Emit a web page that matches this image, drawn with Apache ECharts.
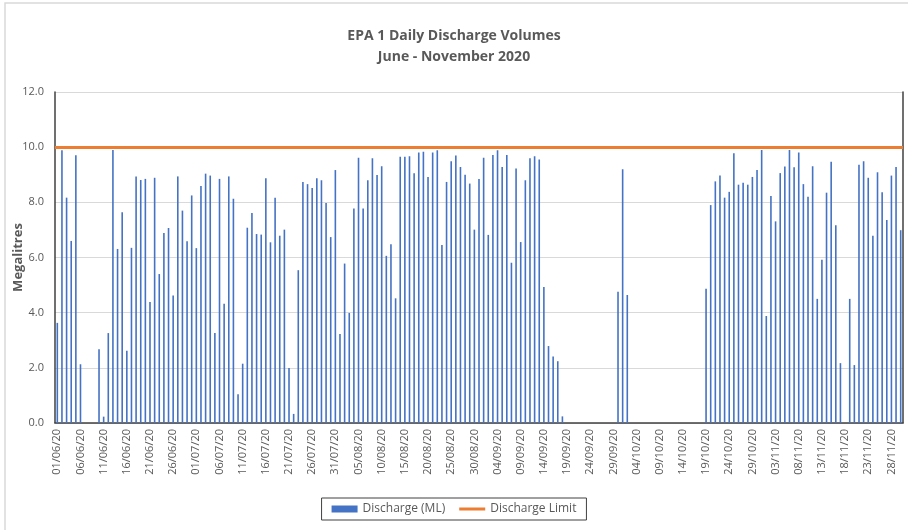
<!DOCTYPE html>
<html>
<head>
<meta charset="utf-8">
<script src="https://cdn.jsdelivr.net/npm/echarts@6/dist/echarts.min.js"></script>
<style>
  html, body { margin: 0; padding: 0; background: #fff; }
  #chart { width: 908px; height: 530px; }
</style>
</head>
<body>
<div id="chart"></div>
<script>
// daily volumes, 01/06/20 .. 30/11/20 (ML)
var discharge = [
  3.63, 9.89, 8.17, 6.6, 9.71, 2.13, 0, 0, 0, 2.67, 0.23, 3.26, 9.9, 6.31, 7.64, 2.62, 6.35, 8.94, 8.81, 8.85, 4.39, 8.89, 5.4,
  6.89, 7.07, 4.62, 8.94, 7.7, 6.59, 8.25, 6.34, 8.59, 9.04, 8.97, 3.26, 8.85, 4.32, 8.94, 8.13, 1.04, 2.15, 7.08, 7.61, 6.85, 6.83, 8.87, 6.55,
  8.17, 6.79, 7.01, 1.99, 0.33, 5.54, 8.74, 8.66, 8.52, 8.87, 8.8, 7.98, 6.74, 9.17, 3.23, 5.78, 3.99, 7.78, 9.62, 7.78, 8.8, 9.6, 8.99,
  9.31, 6.06, 6.48, 4.52, 9.65, 9.65, 9.67, 9.05, 9.81, 9.83, 8.92, 9.81, 9.89, 6.45, 8.74, 9.49, 9.7, 9.28, 9.0, 8.68, 7.01, 8.85, 9.62, 6.82,
  9.72, 9.89, 9.28, 9.72, 5.81, 9.23, 6.56, 8.8, 9.6, 9.67, 9.55, 4.93, 2.79, 2.41, 2.24, 0.24,
  0, 0, 0, 0, 0, 0, 0, 0, 0, 0, 0,
  4.76, 9.2, 4.64,
  0, 0, 0, 0, 0, 0, 0, 0, 0, 0, 0, 0, 0, 0, 0, 0,
  4.87, 7.9, 8.76, 8.97, 8.17, 8.38, 9.78, 8.64, 8.71, 8.64, 8.92, 9.17, 9.9, 3.88, 8.23, 7.31, 9.06, 9.3, 9.9, 9.27, 9.81, 8.66, 8.2,
  9.31, 4.5, 5.92, 8.35, 9.47, 7.17, 2.17, 0, 4.5, 2.1, 9.36, 9.49, 8.89, 6.79, 9.09, 8.37, 7.36, 8.97, 9.28, 6.99
];
var limit = 10;
var yTicks = [0, 2, 4, 6, 8, 10, 12];

// category labels dd/mm/yy
var days = [];
var d = new Date(2020, 5, 1);
for (var i = 0; i < discharge.length; i++) {
  var dd = ('0' + d.getDate()).slice(-2);
  var mm = ('0' + (d.getMonth() + 1)).slice(-2);
  days.push(dd + '/' + mm + '/20');
  d.setDate(d.getDate() + 1);
}

var font = '"Open Sans", "Liberation Sans", sans-serif';
var chart = echarts.init(document.getElementById('chart'));

chart.setOption({
  animation: false,
  textStyle: { fontFamily: font },
  title: {
    text: 'EPA 1 Daily Discharge Volumes\nJune - November 2020',
    left: 'center',
    top: 21,
    textStyle: { color: '#595959', fontSize: 14, fontWeight: 'bold', lineHeight: 21, fontFamily: font }
  },
  graphic: [{
    type: 'rect',
    shape: { x: 5, y: 3, width: 1000, height: 1000 },
    style: { fill: 'none', stroke: '#d9d9d9', lineWidth: 1.5 },
    silent: true
  }],
  grid: { left: 55, right: 5, top: 92, bottom: 107, outerBoundsMode: 'none', containLabel: false },
  legend: {
    bottom: 10,
    left: 'center',
    padding: [5, 10],
    itemGap: 14,
    borderColor: '#404040',
    borderWidth: 1,
    itemWidth: 26,
    itemHeight: 7,
    textStyle: { color: '#595959', fontSize: 12 },
    data: [
      { name: 'Discharge (ML)', icon: 'rect' },
      { name: 'Discharge Limit', icon: 'path://M0,0 L26,0 L26,3 L0,3 Z' }
    ]
  },
  xAxis: [{
    type: 'category',
    data: days,
    axisLine: { lineStyle: { color: '#d9d9d9', width: 1 } },
    axisTick: { show: false },
    axisLabel: { interval: 4, rotate: 90, color: '#595959', fontSize: 11, margin: 6 }
  }, {
    type: 'category',
    position: 'top',
    data: days,
    axisLine: { lineStyle: { color: '#404040', width: 1.5 } },
    axisTick: { show: false },
    axisLabel: { show: false }
  }],
  yAxis: [{
    type: 'value',
    min: yTicks[0],
    max: yTicks[yTicks.length - 1],
    interval: 2,
    name: 'Megalitres',
    nameLocation: 'middle',
    nameGap: 30,
    nameMoveOverlap: false,
    nameTextStyle: { color: '#595959', fontSize: 13, fontWeight: 'bold' },
    axisLine: { show: true, lineStyle: { color: '#404040', width: 1.5 } },
    axisTick: { show: false },
    axisLabel: { color: '#595959', fontSize: 11, margin: 11, formatter: function (v) { return v.toFixed(1); } },
    splitLine: { lineStyle: { color: '#d9d9d9' } }
  }, {
    type: 'value',
    position: 'right',
    min: yTicks[0],
    max: yTicks[yTicks.length - 1],
    interval: 2,
    axisLine: { show: true, lineStyle: { color: '#404040', width: 1.5 } },
    axisTick: { show: false },
    axisLabel: { show: false },
    splitLine: { show: false }
  }],
  series: [{
    name: 'Discharge (ML)',
    type: 'bar',
    data: discharge,
    barWidth: 1.6,
    itemStyle: { color: '#4472C4' }
  }, {
    name: 'Discharge Limit',
    type: 'line',
    data: [],
    symbol: 'none',
    itemStyle: { color: '#ED7D31' },
    lineStyle: { color: '#ED7D31', width: 3 },
    markLine: {
      silent: true,
      symbol: ['none', 'none'],
      label: { show: false },
      lineStyle: { color: '#ED7D31', width: 3, type: 'solid' },
      data: [{ yAxis: limit }]
    }
  }]
});
</script>
</body>
</html>
